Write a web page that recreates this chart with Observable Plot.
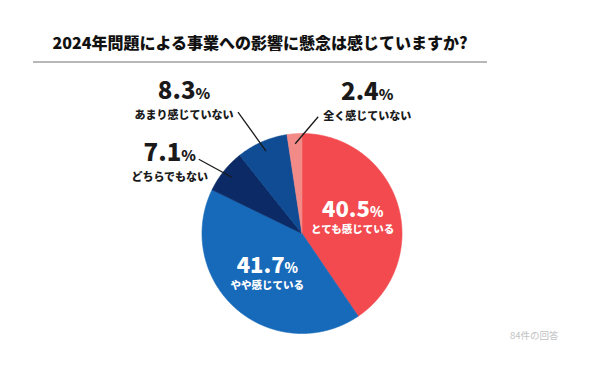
<!DOCTYPE html>
<html>
<head>
<meta charset="utf-8">
<script src="https://cdn.jsdelivr.net/npm/d3@7"></script>
<script src="https://cdn.jsdelivr.net/npm/@observablehq/plot@0.6"></script>
<style>
  html, body { margin: 0; padding: 0; background: #fff; }
  #wrap { position: relative; width: 600px; height: 375px; overflow: hidden; }
  #header { position: relative; width: 600px; height: 70px; }
  #title { position: absolute; left: 33px; width: 454px; top: 31px; text-align: center;
    font-family: "Noto Sans CJK JP", sans-serif; font-weight: 900; font-size: 16px; line-height: 22px; color: #111; }
  #rule { position: absolute; left: 33px; width: 454px; top: 61px; height: 2px; background: #b8b8b8; }
  svg text { font-family: "Noto Sans CJK JP", sans-serif; }
</style>
</head>
<body>
<div id="wrap">
  <div id="header">
    <div id="title">2024年問題による事業への影響に懸念は感じていますか?</div>
    <div id="rule"></div>
  </div>
  <div id="chart"></div>
</div>
<script>
// ---- data ----
const categories = ["とても感じている", "やや感じている", "どちらでもない", "あまり感じていない", "全く感じていない"];
const values = [40.5, 41.7, 7.1, 8.3, 2.4];
const pctLabels = ["40.5%", "41.7%", "7.1%", "8.3%", "2.4%"];
const caption = "84件の回答";

// ---- styles ----
const colors = ["#f24a4f", "#1769b9", "#0c2b66", "#0f4c93", "#f28a88"];

// ---- layout ----
const W = 600, H = 305, R = 100, CX = 301.5, CY = 163;
// leader/label offsets (pixels) for the small slices drawn outside
const outsideLayout = {
  "あまり感じていない": {lx: -28, ly: -39, tx: -54, ty: 3},
  "どちらでもない": {lx: -33, ly: -18, tx: -29, ty: 18},
  "全く感じていない": {lx: 23, ly: -27, tx: 49, ty: 0}
};

const total = d3.sum(values);
let acc = 0;
const slices = categories.map((c, i) => {
  const a0 = acc / total * 360;
  acc += values[i];
  const a1 = acc / total * 360;
  return {cat: c, value: values[i], pct: pctLabels[i], a0, a1, mid: (a0 + a1) / 2, inside: values[i] > 20};
});
const rad = d => d * Math.PI / 180;
const polar = (deg, k) => [k * Math.sin(rad(deg)), k * Math.cos(rad(deg))];

// polygon vertices for each slice
const pts = [];
for (const s of slices) {
  pts.push({cat: s.cat, x: 0, y: 0});
  const n = Math.max(2, Math.ceil((s.a1 - s.a0) / 0.5));
  for (let j = 0; j <= n; j++) {
    const [x, y] = polar(s.a0 + (s.a1 - s.a0) * j / n, 1);
    pts.push({cat: s.cat, x, y});
  }
  pts.push({cat: s.cat, x: 0, y: 0});
}

// labels
const inLabels = [], outLabels = [], leaders = [];
for (const s of slices) {
  if (s.inside) {
    const [x, y] = polar(s.mid, 0.53);
    inLabels.push({pct: s.pct, name: s.cat, x, yp: y + 8 / R, yn: y - 12 / R});
  } else {
    const L = outsideLayout[s.cat];
    const [ix, iy] = polar(s.mid, 0.9);
    const ox = ix + L.lx / R, oy = iy - L.ly / R;
    leaders.push({x1: ix, y1: iy, x2: ox, y2: oy});
    const nx = ox + L.tx / R, ny = oy - L.ty / R;
    outLabels.push({pct: s.pct, name: s.cat, x: nx, yn: ny, yp: ny + 24 / R});
  }
}

const chart = Plot.plot({
  width: W, height: H, margin: 0,
  x: {domain: [-CX / R, (W - CX) / R], axis: null},
  y: {domain: [(CY - H) / R, CY / R], axis: null},
  color: {domain: categories, range: colors},
  marks: [
    Plot.line(pts, {x: "x", y: "y", z: "cat", fill: "cat", stroke: "cat", strokeWidth: 0.6, curve: "linear"}),
    Plot.link(leaders, {x1: "x1", y1: "y1", x2: "x2", y2: "y2", stroke: "#1a1a1a", strokeWidth: 1.3}),
    Plot.text(inLabels, {x: "x", y: "yp", text: "pct", fill: "white", fontSize: 22, fontWeight: 900,
      fontFamily: "Roboto, sans-serif", letterSpacing: "1.5px"}),
    Plot.text(inLabels, {x: "x", y: "yn", text: "name", fill: "white", fontSize: 10.5, fontWeight: 900}),
    Plot.text(outLabels, {x: "x", y: "yp", text: "pct", fill: "#1a1a1a", fontSize: 24, fontWeight: 900,
      fontFamily: "Roboto, sans-serif", letterSpacing: "1.5px"}),
    Plot.text(outLabels, {x: "x", y: "yn", text: "name", fill: "#1a1a1a", fontSize: 11, fontWeight: 900}),
    Plot.text([caption], {frameAnchor: "bottom-right", text: d => d, dx: -42, dy: -37, textAnchor: "end",
      fill: "#c2c2c2", fontSize: 9.5})
  ]
});

// smaller percent sign
const NS = "http://www.w3.org/2000/svg";
chart.querySelectorAll("text").forEach(t => {
  const m = (t.textContent || "").match(/^([\d.]+)%$/);
  if (m && t.children.length === 0) {
    t.textContent = m[1];
    const ts = document.createElementNS(NS, "tspan");
    ts.setAttribute("font-size", "0.62em");
    ts.textContent = "%";
    t.appendChild(ts);
  }
});
document.getElementById("chart").appendChild(chart);
</script>
</body>
</html>
